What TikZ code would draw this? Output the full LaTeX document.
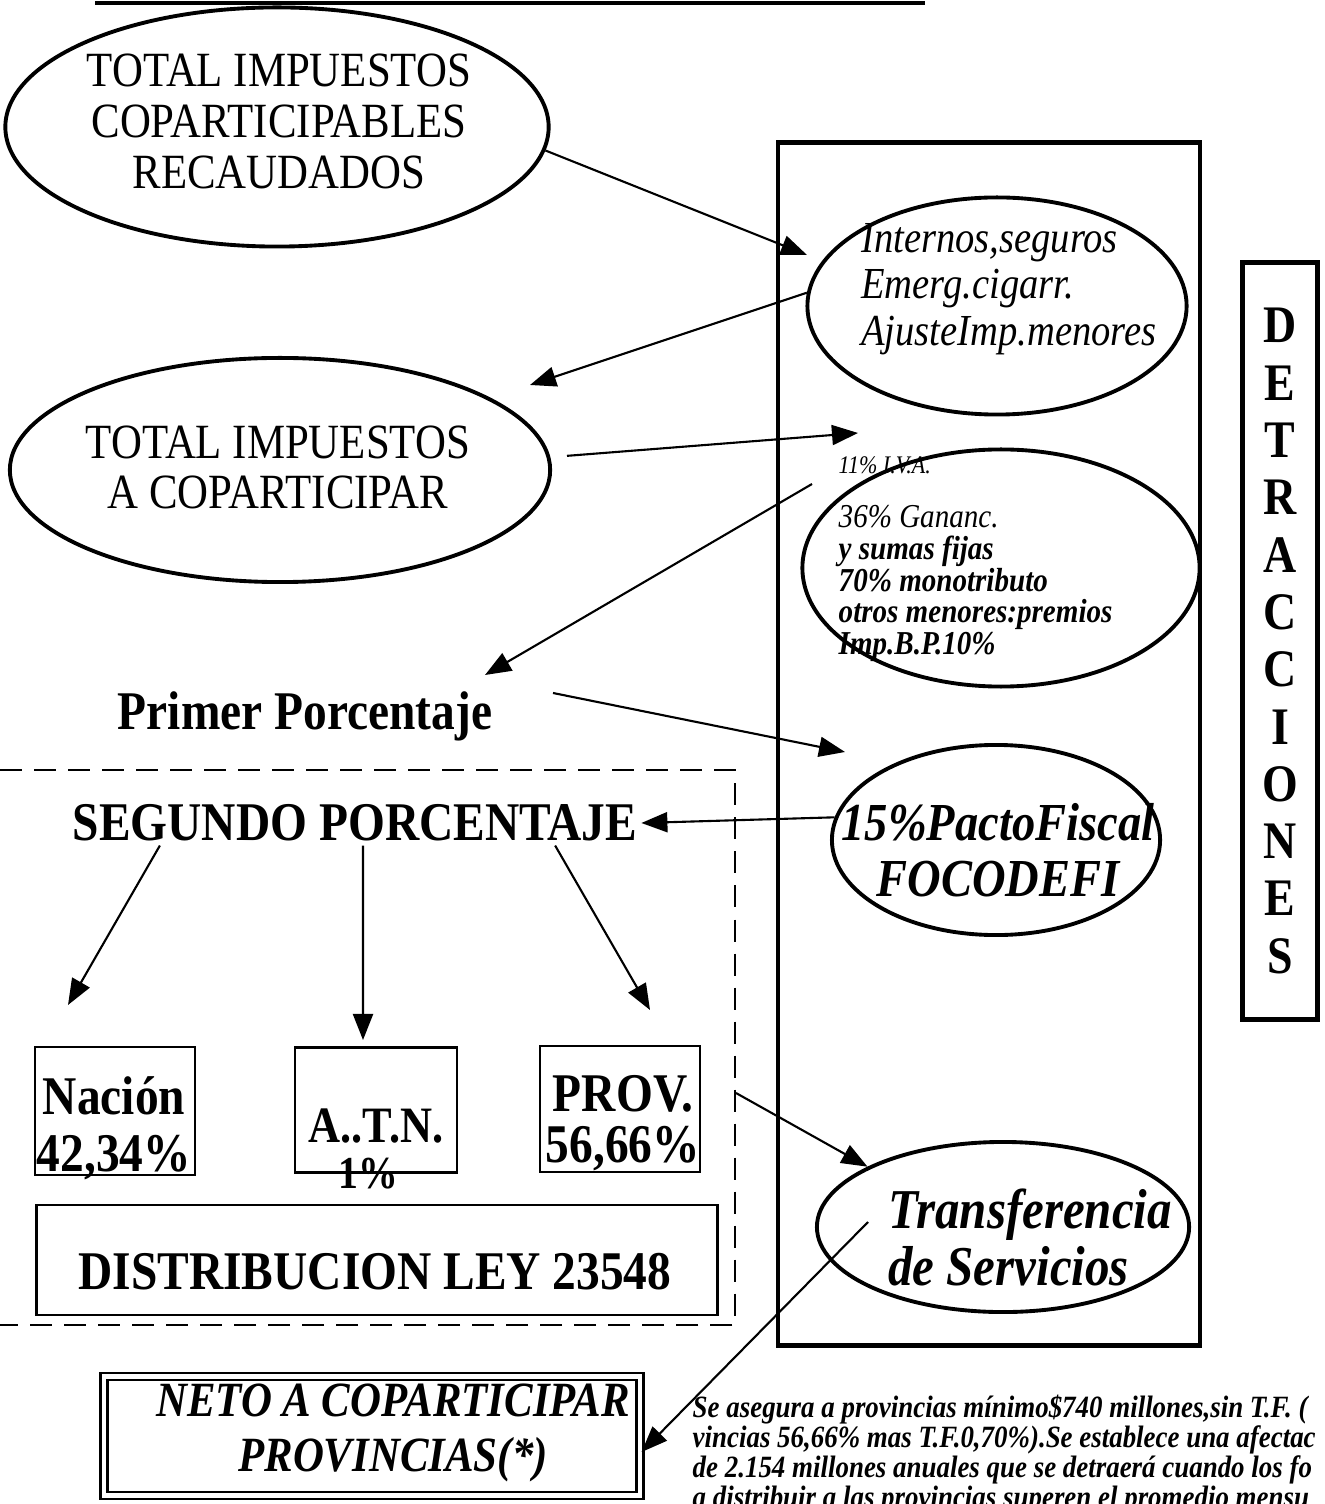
\documentclass[tikz,border=0pt]{standalone}
\usepackage{fontspec}
\setmainfont[FakeStretch=0.87]{Liberation Serif}
\usetikzlibrary{shapes.geometric,arrows.meta}

\begin{document}
\begin{tikzpicture}[x=0.01cm,y=-0.01cm,
  elipse/.style={draw,ellipse,line width=1.1pt,inner sep=0pt},
  caja/.style={draw,rectangle,line width=0.7pt,inner sep=0pt},
  texto/.style={inner sep=1pt,align=center},
  flecha/.style={line width=0.6pt,-{Triangle[length=0.26cm,width=0.2cm]}}]
\useasboundingbox (0,0) rectangle (1324,1504);

\draw[line width=1.3pt] (95,3) -- (925,3);

% upper ellipses
\node[elipse,minimum width=5.43cm,minimum height=2.39cm] (recaudados) at (277,127) {};
\node[texto,font=\fontsize{14}{14.5}\selectfont] (recaudadostxt) at (279,121) {TOTAL IMPUESTOS\\COPARTICIPABLES\\RECAUDADOS};

\node[elipse,minimum width=5.4cm,minimum height=2.24cm] (coparticipar) at (280,470) {};
\node[texto,font=\fontsize{14}{14.2}\selectfont] (coparticipartxt) at (278,467) {TOTAL IMPUESTOS\\A COPARTICIPAR};

\node[texto,font=\bfseries\fontsize{15.5}{16}\selectfont] (primer) at (305,716) {Primer Porcentaje};

% detracciones
\node[draw,line width=1.3pt,minimum width=4.22cm,minimum height=12.02cm,inner sep=0pt] (marco) at (989,744) {};

\node[elipse,minimum width=3.79cm,minimum height=2.17cm] (internos) at (997,306) {};
\node[texto,align=left,anchor=west,font=\itshape\fontsize{12.6}{13.3}\selectfont] (internostxt) at (857,289) {Internos,seguros\\Emerg.cigarr.\\AjusteImp.menores};

\node[elipse,minimum width=3.97cm,minimum height=2.37cm] (deduc) at (1001,568) {};
\node[texto,align=left,anchor=west,inner sep=0pt,font=\bfseries\itshape\fontsize{9.5}{9}\selectfont] (deductxt) at (838,559) {{\mdseries\fontsize{7.2}{9}\selectfont 11\% I.V.A.}\\[6.6pt]
  {\mdseries 36\% Gananc.}\\
  y sumas fijas\\
  70\% monotributo\\
  otros menores:premios\\
  Imp.B.P.10\%};

\node[elipse,minimum width=3.28cm,minimum height=1.9cm] (pacto) at (996,840) {};
\node[texto,font=\bfseries\itshape\fontsize{15.2}{15.9}\selectfont] (pactotxt) at (998,850) {15\%PactoFiscal\\FOCODEFI};

\node[elipse,minimum width=3.72cm,minimum height=1.7cm] (transf) at (1003,1227) {};
\node[texto,align=left,anchor=west,font=\bfseries\itshape\fontsize{16}{16.2}\selectfont] (transftxt) at (884,1237) {Transferencia\\de Servicios};

\node[draw,line width=1.3pt,minimum width=0.75cm,minimum height=7.57cm,inner sep=0pt,align=center,font=\bfseries\fontsize{15}{16.3}\selectfont] (letras) at (1280,641) {D\\E\\T\\R\\A\\C\\C\\I\\O\\N\\E\\S};

% segundo porcentaje
\draw[line width=0.7pt,dash pattern=on 0.22cm off 0.12cm] (0,770) -- (735,770) -- (735,1325) -- (0,1325);

\node[texto,font=\bfseries\fontsize{15.5}{16}\selectfont] (segundo) at (355,823) {SEGUNDO PORCENTAJE};

\node[caja,minimum width=1.6cm,minimum height=1.28cm] (nacion) at (115,1111) {};
\node[texto,font=\bfseries\fontsize{15.5}{16.2}\selectfont] (naciontxt) at (114,1128) {Nación\\42,34\%};

\node[caja,minimum width=1.62cm,minimum height=1.25cm] (atn) at (376,1110) {};
\node[texto,font=\bfseries\fontsize{14.5}{16}\selectfont] (atntxt) at (376,1126) {A..T.N.};
\node[texto,font=\bfseries\fontsize{13}{14}\selectfont] (atnpct) at (368,1174) {1\%};

\node[caja,minimum width=1.6cm,minimum height=1.26cm] (prov) at (620,1109) {};
\node[texto,font=\bfseries\fontsize{15.5}{14.5}\selectfont] (provtxt) at (623,1123) {PROV.\\56,66\%};

\node[caja,minimum width=6.81cm,minimum height=1.1cm] (ley) at (377,1260) {};
\node[texto,font=\bfseries\fontsize{15.5}{16}\selectfont] (leytxt) at (375,1272) {DISTRIBUCION LEY 23548};

% neto
\node[draw,double,line width=0.8pt,double distance=1.2pt,minimum width=5.36cm,minimum height=1.19cm,inner sep=0pt] (neto) at (372,1436) {};
\node[texto,font=\bfseries\itshape\fontsize{14}{15.6}\selectfont] (netotxt) at (393,1433) {NETO A COPARTICIPAR\\PROVINCIAS(*)};

\node[texto,align=left,anchor=north west,inner sep=0pt,font=\bfseries\itshape\fontsize{8.8}{8.6}\selectfont] (nota) at (692,1394) {Se asegura a provincias mínimo\$740 millones,sin T.F. (\\vincias 56,66\% mas T.F.0,70\%).Se establece una afectac\\de 2.154 millones anuales que se detraerá cuando los fo\\a distribuir a las provincias superen el promedio mensu};

% arrows
\coordinate (a2) at (807,255);
\coordinate (b2) at (530,385);
\coordinate (c2) at (858,433);
\coordinate (d1) at (812,484);
\coordinate (d2) at (485,675);
\coordinate (e1) at (553,693);
\coordinate (e2) at (845,752);
\coordinate (g1) at (68,1005);
\coordinate (g2) at (363,1040);
\coordinate (g3) at (650,1010);
\coordinate (h1) at (736,1093);
\coordinate (i1) at (868,1222);

\draw[flecha] (recaudados.-5) -- (a2);
\draw[flecha] (internos.176) -- (b2);
\draw[flecha] ([xshift=0.17cm]coparticipar.3) -- (c2);
\draw[flecha] (d1) -- (d2);
\draw[flecha] (e1) -- (e2);
\draw[flecha] (pacto.172) -- (segundo.east);
\draw[flecha] ([xshift=-1.95cm]segundo.south) -- (g1);
\draw[flecha] ([xshift=0.08cm]segundo.south) -- (g2);
\draw[flecha] ([xshift=2cm]segundo.south) -- (g3);
\draw[flecha] (h1) -- (transf.156);
\draw[flecha] (i1) -- ([yshift=-0.16cm]neto.east);

\end{tikzpicture}
\end{document}
